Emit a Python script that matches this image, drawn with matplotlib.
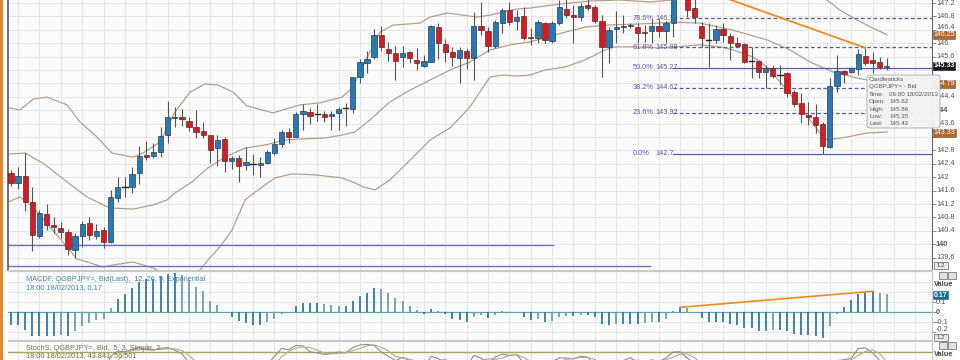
import matplotlib
matplotlib.use("Agg")
import matplotlib.pyplot as plt
import matplotlib.transforms as mtrans
from matplotlib.patches import Rectangle, FancyBboxPatch
import logging
logging.getLogger("matplotlib.font_manager").setLevel(logging.ERROR)

plt.rcParams['font.family'] = ['Liberation Sans Narrow', 'Liberation Sans', 'DejaVu Sans']

# ---------------- data ----------------
opens = [142.13,141.83,142.04,141.26,140.25,140.90,140.57,140.48,140.37,139.83,
         140.25,140.63,140.25,140.42,140.07,141.38,141.71,141.71,142.13,142.66,
         142.63,142.75,143.26,143.77,143.80,143.68,143.50,143.38,143.26,142.87,
         143.14,142.48,142.57,142.37,142.40,142.37,142.42,142.72,142.99,143.35,
         143.20,143.89,143.95,143.89,143.89,143.83,143.92,144.07,144.04,144.99,
         145.41,145.59,146.25,145.83,145.71,145.59,145.74,145.50,145.32,145.44,
         146.48,145.98,145.74,145.56,145.77,145.56,146.51,146.36,145.92,146.60,
         146.99,146.66,146.81,146.16,146.16,146.60,146.07,146.60,147.02,146.84,
         146.78,147.14,147.08,146.66,145.89,146.42,146.51,146.51,146.48,146.31,
         146.36,146.51,146.36,146.60,147.70,147.45,147.05,146.51,146.10,146.10,
         146.42,146.22,146.01,145.98,145.47,145.47,145.14,145.26,145.06,145.11,
         144.54,144.22,143.86,143.80,143.59,142.90,144.72,145.17,145.14,145.23,
         145.62,145.50,145.44,145.30]
highs = [142.22,142.31,142.72,141.71,141.02,141.20,140.81,140.66,140.45,140.34,
         140.69,140.81,140.60,140.51,141.62,142.01,142.01,142.31,142.93,143.08,
         143.02,143.50,144.28,144.10,144.04,143.80,144.01,143.65,143.26,143.26,
         143.20,142.63,142.66,142.90,142.69,142.60,142.81,143.17,143.41,143.47,
         143.95,144.19,144.07,144.19,143.98,143.98,144.10,144.22,144.99,145.53,
         145.77,146.42,146.51,146.04,145.92,145.92,145.77,145.86,145.65,146.54,
         146.60,146.13,145.89,145.89,145.86,146.93,147.23,146.48,146.69,147.05,
         147.23,146.99,147.08,146.45,146.69,146.63,146.66,147.29,147.35,147.14,
         147.20,147.35,147.14,146.84,146.48,146.96,146.84,146.60,146.60,146.54,
         146.72,146.72,146.66,147.65,147.83,147.60,147.35,146.63,146.60,146.54,
         146.60,146.31,146.19,146.01,145.89,145.50,145.35,145.35,145.35,145.14,
         144.60,144.51,144.25,144.19,143.65,144.96,145.65,145.20,145.29,145.83,
         145.86,145.74,145.59,145.56]
lows = [141.74,141.65,140.99,139.80,140.19,140.42,140.34,140.19,139.68,139.59,
        139.92,140.13,140.16,139.89,140.04,141.26,141.41,141.53,141.80,142.51,
        142.57,142.60,143.02,143.50,143.53,143.38,143.17,143.17,142.42,142.34,
        142.16,142.25,141.86,142.22,142.07,142.01,142.40,142.66,142.90,143.02,
        143.20,143.41,143.59,143.68,143.65,143.41,143.41,143.53,143.92,144.81,
        145.11,145.53,145.77,145.47,144.90,145.29,145.41,145.20,145.29,145.44,
        145.53,145.44,145.32,144.81,145.23,144.90,146.25,145.74,145.86,146.31,
        146.54,146.39,146.10,145.95,146.01,146.01,146.01,146.54,146.75,146.01,
        146.66,146.99,146.60,144.99,145.41,146.01,146.31,146.45,146.01,146.04,
        146.01,146.19,146.01,146.19,147.40,146.78,146.60,145.89,145.29,146.01,
        146.04,145.50,145.89,145.41,144.96,144.96,144.66,144.96,144.75,144.39,
        144.10,143.62,143.56,143.32,142.70,142.88,144.54,144.81,145.11,145.05,
        145.35,145.11,145.23,145.20]
closes = [141.83,142.04,141.26,140.28,140.93,140.57,140.51,140.37,139.86,140.25,
          140.60,140.28,140.40,140.07,141.41,141.71,141.70,142.10,142.63,142.60,
          142.75,143.23,143.80,143.80,143.74,143.50,143.35,143.26,142.81,143.11,
          142.48,142.57,142.34,142.45,142.39,142.42,142.75,142.99,143.35,143.20,
          143.89,143.98,143.83,143.88,143.80,143.89,144.04,144.06,144.99,145.44,
          145.53,146.25,145.89,145.71,145.47,145.71,145.56,145.41,145.47,146.51,
          146.01,145.74,145.59,145.80,145.56,146.51,146.39,145.92,146.63,146.99,
          146.63,146.78,146.16,146.19,146.63,146.10,146.60,147.08,146.84,146.78,
          147.11,147.05,146.66,145.89,146.39,146.48,146.48,146.54,146.31,146.33,
          146.51,146.36,146.60,147.55,147.50,146.99,146.78,146.16,146.09,146.42,
          146.25,146.01,145.92,145.44,145.46,145.14,145.26,145.02,145.05,144.51,
          144.19,143.89,143.80,143.56,142.93,144.72,145.17,145.08,145.26,145.68,
          145.42,145.41,145.29,145.33]

macd_hist = [-0.13,-0.13,-0.18,-0.24,-0.24,-0.24,-0.24,-0.23,-0.24,-0.19,
             -0.14,-0.11,-0.08,-0.07,0.04,0.13,0.18,0.24,0.30,0.33,
             0.33,0.36,0.38,0.39,0.37,0.32,0.25,0.21,0.11,0.07,
             0.00,-0.05,-0.09,-0.11,-0.13,-0.13,-0.10,-0.07,-0.02,0.00,
             0.06,0.09,0.09,0.09,0.08,0.07,0.06,0.06,0.11,0.16,
             0.19,0.24,0.23,0.19,0.14,0.11,0.06,0.02,-0.02,0.03,
             0.01,-0.02,-0.07,-0.08,-0.10,-0.05,-0.03,-0.06,-0.03,0.01,
             0.00,0.00,-0.05,-0.08,-0.07,-0.10,-0.09,-0.05,-0.04,-0.04,
             -0.03,-0.03,-0.05,-0.12,-0.13,-0.12,-0.12,-0.12,-0.12,-0.11,
             -0.10,-0.10,-0.07,0.01,0.05,0.04,0.00,-0.06,-0.10,-0.10,
             -0.10,-0.12,-0.13,-0.16,-0.16,-0.19,-0.19,-0.18,-0.18,-0.19,
             -0.22,-0.23,-0.23,-0.24,-0.26,-0.14,-0.02,0.05,0.12,0.18,
             0.20,0.21,0.19,0.18]

stoch_k = [20,35,15,5,30,25,20,15,5,30,
           40,30,45,30,70,82,80,86,90,85,
           84,88,90,84,76,55,40,30,10,30,
           12,20,8,25,22,25,50,70,88,85,
           95,94,80,78,74,76,80,78,90,96,
           97,95,80,70,60,68,60,50,45,70,
           65,55,45,50,45,72,66,55,68,75,
           72,74,55,45,55,50,58,66,66,64,
           70,68,50,20,40,55,60,67,55,55,
           62,58,66,80,80,65,55,35,30,40,
           35,25,20,10,15,10,20,12,15,5,
           5,8,10,8,5,40,60,62,65,88,
           89,78,60,43.8]
stoch_d = [30,28,23,18,17,20,25,20,13,17,
           25,33,38,35,48,61,77,83,85,87,
           86,86,87,87,83,72,57,42,27,23,
           17,21,13,18,18,24,32,48,69,81,
           89,91,90,84,77,76,77,78,83,88,
           94,96,91,82,70,66,63,59,52,55,
           60,63,55,50,47,56,61,64,63,66,
           72,74,67,58,52,50,54,58,63,65,
           67,67,63,46,37,38,52,61,61,59,
           57,58,62,68,75,75,67,52,40,35,
           35,33,27,18,15,12,15,14,16,11,
           8,6,8,9,8,18,35,54,62,72,
           81,85,76,56.5]

bb_upper_x = [-0.42,1.26,3.09,5.06,7.87,9.69,12.08,14.19,17.13,18.54,20.93,23.03,
              25.14,27.25,29.07,31.18,33.15,36.80,40.59,43.40,46.49,47.89,49.86,
              51.83,53.65,57.44,58.85,61.24,63.48,65.45,67.28,69.10,71.07,72.89,
              77.11,81.32,85.53,89.75,92.84,95.37,99.58,105.20,110.81,114.61,
              116.43,118.82,121.07,123.03]
bb_upper = [144.07,144.01,144.33,144.39,144.16,143.65,143.20,142.72,142.60,142.72,
            143.05,143.95,144.54,144.78,144.75,144.54,144.13,143.92,144.16,144.22,
            144.39,144.66,145.50,146.33,146.54,146.60,146.78,146.90,146.84,146.78,
            146.84,146.93,147.02,147.05,147.17,147.26,147.29,147.23,147.29,147.44,
            147.74,147.89,147.65,147.29,146.99,146.69,146.45,146.25]
bb_mid_x = [-0.42,1.97,4.49,7.87,10.67,13.90,17.13,19.94,21.91,23.03,25.42,27.67,
            30.06,32.87,35.67,38.48,40.31,44.10,46.49,48.31,50.42,53.23,56.04,
            58.85,61.66,64.47,67.28,70.08,72.89,75.00,77.81,80.62,83.43,87.64,
            90.87,92.84,96.77,101.40,106.18,109.41,112.22,115.45,118.82,123.03]
bb_mid = [142.69,142.72,142.42,141.86,141.41,141.08,141.05,141.17,141.32,141.53,
          141.86,142.28,142.60,142.87,142.96,143.11,143.14,143.17,143.26,143.35,
          143.71,144.25,144.60,144.90,145.20,145.44,145.80,145.95,146.04,146.16,
          146.33,146.48,146.54,146.57,146.60,146.63,146.60,146.39,146.10,145.80,
          145.44,145.14,144.96,144.79]
bb_low_x = [-0.42,1.26,3.09,5.48,7.87,9.27,10.67,12.92,14.33,17.13,19.94,22.33,
            24.44,26.54,27.67,29.35,31.04,32.87,34.69,37.08,39.47,42.70,46.49,
            48.31,49.44,51.12,53.23,56.04,58.85,61.66,64.47,66.29,67.28,69.10,
            71.07,72.89,75.00,77.81,80.62,83.43,84.83,87.64,90.87,93.26,96.77,
            99.58,101.40,104.21,106.18,108.99,110.81,112.22,113.62,114.61,117.42,
            120.22,123.03]
bb_low = [141.26,141.41,141.11,140.51,139.92,139.56,139.47,139.32,139.38,139.47,
          139.29,139.05,138.93,139.23,139.53,139.92,140.42,141.32,141.62,141.98,
          142.10,142.07,141.98,141.83,141.71,141.62,141.92,142.51,143.11,143.47,
          144.10,144.69,144.99,145.05,145.02,145.05,145.20,145.29,145.50,145.80,
          145.89,145.89,145.86,145.89,145.95,145.89,145.80,145.59,145.29,144.60,
          144.10,143.71,143.32,143.11,143.20,143.32,143.35]

fib_pcts = ["0.0%", "23.6%", "38.2%", "50.0%", "61.8%", "78.6%"]
fib_vals = [142.7, 143.92, 144.67, 145.27, 145.88, 146.75]
fib_solid = [True, False, False, True, False, False]
fib_start = 93

trend_price_x = [94, 120]
trend_price_y = [147.83, 145.86]
trend_macd_x = [94, 121]

support_levels = [139.97, 139.35]
support_ends = [76.1, 89.7]

price_ticks = [139.6, 140.0, 140.4, 140.8, 141.2, 141.6, 142.0, 142.4, 142.8,
               143.2, 143.6, 144.0, 144.4, 144.8, 145.2, 145.6, 146.0, 146.4,
               146.8, 147.2]
hidden_ticks = [143.2, 144.8, 145.2]   # covered by the value boxes
nudged_ticks = [146.4]                 # partly covered, label sits a bit higher
macd_ticks = [0.1, 0.0, -0.1, -0.2]
macd_tick_labels = ["0.1", "0", "-0.1", "-0.2"]

band_last = [146.25, 144.79, 143.33]
last_price = 145.33
macd_last = 0.17
stoch_level = 80

macd_title = ["MACDF, QGBPJPY=, Bid(Last),  12, 26, 9, Exponential",
              "18:00 18/02/2013, 0.17"]
stoch_title = ["StochS, QGBPJPY=, Bid,  5, 3, Simple, 3",
               "18:00 18/02/2013, 43.841, 56.501"]
tooltip_keys = ["Candlesticks", "QGBPJPY= - Bid", "Time:", "Open:", "High:", "Low:", "Last:"]
tooltip_vals = ["", "", "06:00 18/02/2013", "145.62", "145.86", "145.35", "145.42"]

# ---------------- layout ----------------
W, H = 960, 360
fig = plt.figure(figsize=(W / 100, H / 100), dpi=100)
fig.patch.set_facecolor("white")

def add_ax(x0, y0, x1, y1):
    return fig.add_axes([x0 / W, 1 - y1 / H, (x1 - x0) / W, (y1 - y0) / H])

def fpx(x, y):
    return x / W, 1 - y / H

XL = (-0.42, 129.35)
BLUE = "#1f7bc0"
RED = "#e8141c"
BAND = "#b3a08a"
FIBC = "#5a5aa8"
GRID = "#e6e6e6"
TXT = "#555555"
FS = 5.3

axp = add_ax(8, 0, 932, 270)
axm = add_ax(8, 271, 932, 340)
axs = add_ax(8, 341, 932, 389)

for a in (axp, axm, axs):
    a.set_facecolor("#fbfbfb")
    a.set_xlim(*XL)
    a.set_xticks([i for i in range(1, 130, 3)])
    a.tick_params(axis="x", length=0, labelbottom=False)
    a.grid(True, color=GRID, lw=0.7)
    a.set_axisbelow(True)
    for s in a.spines.values():
        s.set_color("#c8c8c8")
        s.set_linewidth(0.8)

# ---- price panel ----
axp.set_ylim(139.23, 147.29)
axp.yaxis.tick_right()
axp.set_yticks(price_ticks)
axp.set_yticklabels([""] * len(price_ticks))
axp.tick_params(axis="y", length=3, width=0.6, color="#777777")
tp = mtrans.blended_transform_factory(fig.transFigure, axp.transData)
for t in price_ticks:
    if any(abs(t - h) < 1e-6 for h in hidden_ticks):
        continue
    ty = t + (0.07 if any(abs(t - h) < 1e-6 for h in nudged_ticks) else 0.0)
    bold = abs(t - round(t)) < 1e-6 and int(round(t)) % 4 == 0
    fig.text(936 / W, ty, "%g" % t, transform=tp, fontsize=FS, color=TXT, va="center",
             ha="left", fontweight="bold" if bold else "normal")
axp.spines["left"].set_color("#555555")
axp.spines["left"].set_linewidth(1.2)
axp.spines["right"].set_color("#666666")
axp.spines["top"].set_visible(False)

axp.plot(bb_upper_x, bb_upper, color=BAND, lw=0.9, zorder=2)
axp.plot(bb_mid_x, bb_mid, color=BAND, lw=0.9, zorder=2)
axp.plot(bb_low_x, bb_low, color=BAND, lw=0.9, zorder=2)

for lvl, end in zip(support_levels, support_ends):
    axp.plot([XL[0], end], [lvl, lvl], color="#7272b8", lw=1.0, zorder=2)

for pct, val, solid in zip(fib_pcts, fib_vals, fib_solid):
    axp.plot([fib_start, XL[1]], [val, val], color=FIBC, lw=0.9,
             ls="-" if solid else (0, (3, 2)), zorder=2)
    axp.text(fib_start - 5.65, val, pct, fontsize=FS, color=FIBC, va="center", ha="left")
    axp.text(fib_start - 2.55, val, "%g" % val, fontsize=FS, color=FIBC, va="center", ha="left")

axp.plot(trend_price_x, trend_price_y, color="#ec8c1c", lw=1.3, zorder=5, clip_on=True)

bw = 0.74
for i, (o, h, l, c) in enumerate(zip(opens, highs, lows, closes)):
    axp.plot([i, i], [l, h], color="#555555", lw=0.8, zorder=3, solid_capstyle="butt")
    if abs(c - o) < 0.015:
        axp.plot([i - bw / 2, i + bw / 2], [o, o], color="#222222", lw=1.0, zorder=4)
    else:
        col = BLUE if c > o else RED
        axp.add_patch(Rectangle((i - bw / 2, min(o, c)), bw, abs(c - o), facecolor=col,
                                edgecolor="#3a3a3a", lw=0.5, zorder=4))

for v in band_last:
    fig.text(933.5 / W, v, "%.2f" % v, transform=tp, fontsize=5.0, color="white",
             va="center", ha="left", zorder=6,
             bbox=dict(boxstyle="square,pad=0.06", fc="#b0682c", ec="#7a4a20", lw=0.4))
fig.text(933.5 / W, last_price, "%.2f" % last_price, transform=tp, fontsize=5.0,
         color="white", va="center", ha="left", fontweight="bold", zorder=6,
         bbox=dict(boxstyle="square,pad=0.06", fc="#151515", ec="#151515", lw=0.4))

# ---- MACD panel ----
axm.set_ylim(-0.277, 0.413)
axm.yaxis.tick_right()
axm.set_yticks(macd_ticks)
axm.set_yticklabels([])
axm.tick_params(axis="y", length=3, width=0.6, color="#777777")
axm.set_yticks([0.3, 0.2, 0.1, 0.0, -0.1, -0.2], minor=True)
axm.tick_params(axis="y", which="minor", length=0)
axm.grid(True, which="minor", axis="y", color=GRID, lw=0.7)
axm.spines["left"].set_visible(False)
tm = mtrans.blended_transform_factory(fig.transFigure, axm.transData)
for t, lab in zip(macd_ticks, macd_tick_labels):
    shift = 0.025 if t < -0.15 else 0.0   # last label nudged up as in the source
    fig.text(936 / W, t + shift, lab, transform=tm, fontsize=FS, color=TXT,
             va="center", ha="left", fontweight="bold" if t == 0 else "normal")
axm.axhline(0, color="#6aa2ae", lw=0.9, zorder=2)
prev = 0.0
for i, v in enumerate(macd_hist):
    col = "#1f6f9c" if abs(v) >= abs(prev) else "#5f98a6"
    axm.plot([i, i], [0, v], color=col, lw=1.2, zorder=3, solid_capstyle="butt")
    prev = v
axm.plot(trend_macd_x, [macd_hist[trend_macd_x[0]], macd_hist[trend_macd_x[1]]],
         color="#ec8c1c", lw=1.2, zorder=4)
axm.text(0.019, 0.93, macd_title[0], transform=axm.transAxes, fontsize=FS,
         color="#3f8aa6", va="top")
axm.text(0.019, 0.81, macd_title[1], transform=axm.transAxes, fontsize=FS,
         color="#3f8aa6", va="top")
fig.text(933.5 / W, macd_last, "%.2f" % macd_last, transform=tm, fontsize=5.0,
         color="white", va="center", ha="left", fontweight="bold", zorder=6,
         bbox=dict(boxstyle="square,pad=0.08", fc="#1a6c9c", ec="#1a6c9c", lw=0.4))

# ---- Stoch panel ----
axs.set_ylim(-5, 105)
axs.set_yticks([])
axs.spines["left"].set_visible(False)
axs.axhline(stoch_level, color="#a9a65e", lw=1.0, zorder=2)
axs.plot(range(len(stoch_k)), stoch_k, color="#8e8e8e", lw=0.8, zorder=3)
axs.plot(range(len(stoch_d)), stoch_d, color="#b8aa8a", lw=0.8, zorder=3)
axs.text(0.019, 0.92, stoch_title[0], transform=axs.transAxes, fontsize=FS,
         color="#77733f", va="top")
axs.text(0.019, 0.775, stoch_title[1], transform=axs.transAxes, fontsize=FS,
         color="#77733f", va="top")

# ---- right side decorations ----
for yv in (284, 354):
    fig.text(*fpx(934, yv), "Value", fontsize=FS, fontweight="bold", color="#444444",
             va="center", ha="left")
for yv in (272, 342):
    for xv in (939, 948):
        fig.patches.append(Rectangle(fpx(xv, yv + 7), 8 / W, 7 / H, transform=fig.transFigure,
                                     fc="#e0e0e0", ec="#666666", lw=0.5))
for yv in (262, 334):
    fig.patches.append(Rectangle(fpx(934, yv + 7), 14 / W, 7 / H, transform=fig.transFigure,
                                 fc="#e8e8e8", ec="#666666", lw=0.5))
    fig.text(*fpx(941, yv + 3.5), "1.2", fontsize=4.3, color="#444444", va="center",
             ha="center")

fig.patches.append(Rectangle((0, 0), 2.5 / W, 1, transform=fig.transFigure,
                             fc="#e8852c", ec="none"))

# tooltip
fig.patches.append(FancyBboxPatch(fpx(867, 128), 73 / W, 53 / H, transform=fig.transFigure,
                                  boxstyle="round,pad=0,rounding_size=0.004",
                                  fc="#f2f2f2", ec="#a8a8a8", lw=0.6, alpha=0.97, zorder=10))
for k, (key, val) in enumerate(zip(tooltip_keys, tooltip_vals)):
    yv = 79.5 + k * 7.4
    fig.text(*fpx(869, yv), key, fontsize=4.5, color="#555555", va="center", ha="left",
             zorder=11)
    if val:
        fig.text(*fpx(889, yv), val, fontsize=4.5, color="#555555", va="center", ha="left",
                 zorder=11)

fig.savefig("out.png", dpi=100)
